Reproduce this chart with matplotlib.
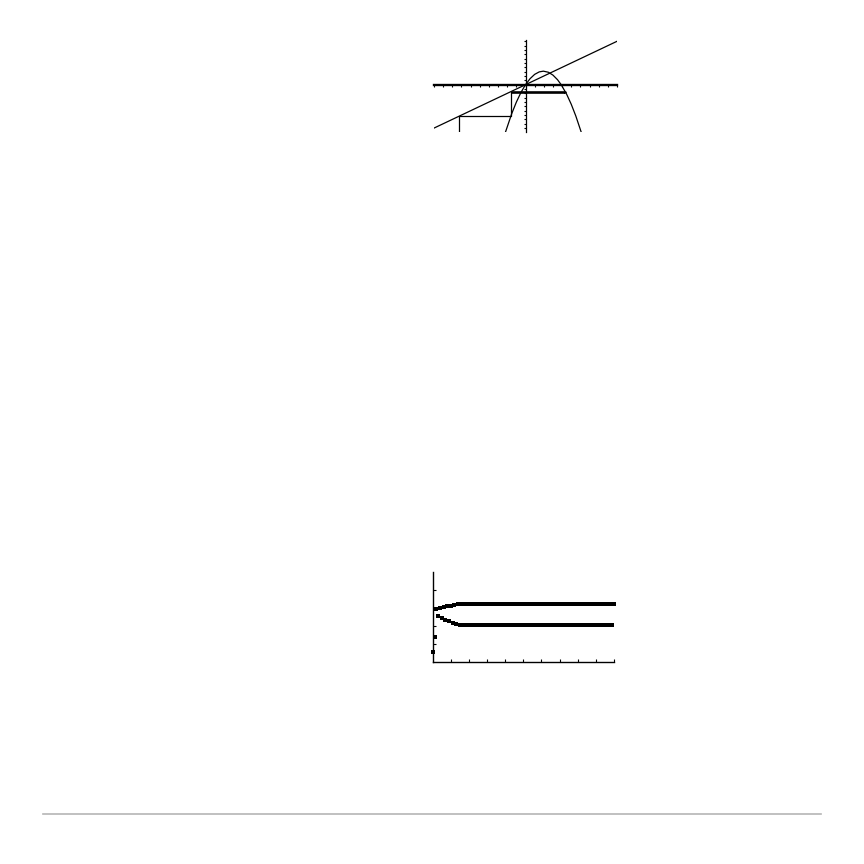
import matplotlib
matplotlib.use('Agg')
import matplotlib.pyplot as plt

# --- cobweb (web) plot, top screen ---
diag_x = [-10, 10]
diag_y = [-10, 10]

curve_x = [-2.2, -1.5, -1.0, -0.5, 0.0, 0.5, 1.0, 1.5, 1.95, 2.5, 3.0, 3.5, 3.9, 4.5, 5.0, 5.5, 6.1]
curve_y = [-11.0, -6.64, -4.02, -1.80, 0.0, 1.39, 2.38, 2.95, 3.12, 2.87, 2.21, 1.15, 0.0, -2.21, -4.51, -7.22, -11.0]

web_x = [-7.29, -7.29, -1.61, -1.61]
web_y = [-10.9, -7.29, -7.29, -1.61]

cycle_x = [-1.61, 4.35, 4.35]
cycle_y = [-1.61, -1.61, -2.0]

# --- time plot, bottom screen ---
transient = [0.52, 1.39, 2.92, 2.56, 2.98, 2.45, 3.03, 2.35, 3.09, 2.27,
             3.12, 2.18, 3.16, 2.10, 3.19, 2.06]
upper_level = 3.2
lower_level = 2.05
n_last = 100

seq = list(transient)
for n in range(len(transient), n_last + 1):
    seq.append(upper_level if n % 2 == 0 else lower_level)
steps = list(range(len(seq)))

W = 864
fig = plt.figure(figsize=(8.64, 8.64), dpi=100)


def px_axes(left, top, right, bottom):
    return fig.add_axes([left / W, 1 - bottom / W, (right - left) / W, (bottom - top) / W])


# web plot
ax = px_axes(434, 40, 617, 132)
ax.set_xlim(-10, 10)
ax.set_ylim(-10.9, 10.3)
ax.plot(diag_x, diag_y, color='black', lw=0.9)
ax.plot(curve_x, curve_y, color='black', lw=0.9)
ax.plot(web_x, web_y, color='black', lw=0.9)
ax.plot(cycle_x, cycle_y, color='black', lw=1.9, solid_capstyle='butt')
for s in ['top', 'right']:
    ax.spines[s].set_visible(False)
ax.spines['left'].set_position('zero')
ax.spines['bottom'].set_position('zero')
ax.spines['left'].set_linewidth(0.9)
ax.spines['bottom'].set_linewidth(1.7)
ax.set_xticks(range(-10, 11))
ax.set_yticks(range(-10, 11))
ax.tick_params(direction='out', length=1.5, width=0.8, labelbottom=False, labelleft=False)
ax.patch.set_alpha(0)

# time plot
ax2 = px_axes(432.7, 572, 614, 661.7)
ax2.set_xlim(0, 100)
ax2.set_ylim(0, 5)
ax2.plot(steps, seq, ls='none', marker='s', ms=2.5, mew=0, color='black', clip_on=False)
for s in ['top', 'right']:
    ax2.spines[s].set_visible(False)
ax2.spines['left'].set_linewidth(1.0)
ax2.spines['bottom'].set_linewidth(1.0)
ax2.set_xticks(range(10, 101, 10))
ax2.set_yticks(range(1, 5))
ax2.tick_params(direction='in', length=2, width=0.8, labelbottom=False, labelleft=False)
ax2.patch.set_alpha(0)

# footer rule
fig.add_artist(plt.Line2D([43 / W, 821 / W], [1 - 813.7 / W] * 2, color='#b5b5b5', lw=1.2))

fig.savefig('out.png', dpi=100)
